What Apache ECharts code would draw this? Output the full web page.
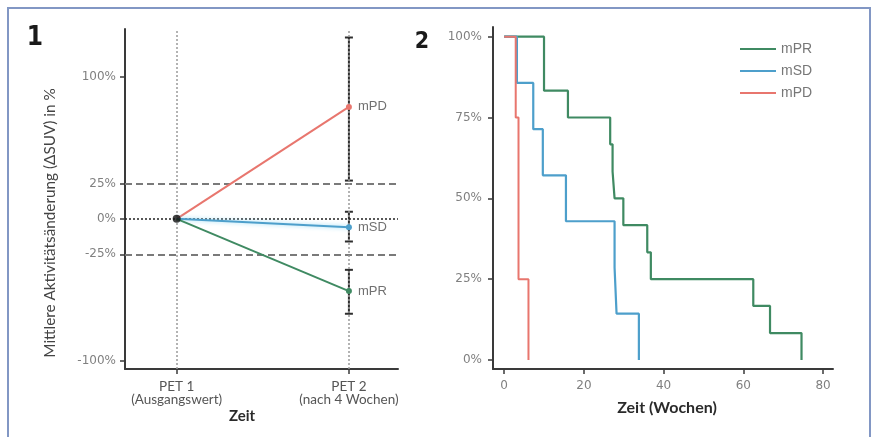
<!DOCTYPE html>
<html>
<head>
<meta charset="utf-8">
<script src="https://cdn.jsdelivr.net/npm/echarts@6/dist/echarts.min.js"></script>
<style>html,body{margin:0;padding:0;background:#fff;}#c{width:874px;height:437px;}</style>
</head>
<body>
<div id="c"></div>
<script>
// ---------- Panel 1 data ----------
const petCategories = ['PET 1\n(Ausgangswert)', 'PET 2\n(nach 4 Wochen)'];
const petPositions = [1, 2];
const groupNames = ['mPD', 'mSD', 'mPR'];
const baselineValue = 0;
const pet2Mean = [79, -6, -51];
const pet2Low = [27, -16, -67];
const pet2High = [128, 5, -36];
const leftYTicks = [-100, -25, 0, 25, 100];
const thresholdLines = [25, -25];

// ---------- Panel 2 data (Kaplan-Meier) ----------
const kmNames = ['mPR', 'mSD', 'mPD'];
const mprTimes = [10, 16, 26.6, 27.2, 27.7, 29.9, 35.9, 36.8, 62.5, 66.7, 74.6];
const mprSurv = [83.3, 75, 66.7, 58.3, 50, 41.7, 33.3, 25, 16.7, 8.3, 0];
const msdTimes = [3.2, 7.3, 9.7, 15.5, 27.7, 28.2, 33.8];
const msdSurv = [85.7, 71.4, 57.1, 42.9, 28.6, 14.3, 0];
const mpdTimes = [2.9, 3.6, 6.1];
const mpdSurv = [75, 25, 0];
const rightXTicks = [0, 20, 40, 60, 80];
const rightYTicks = [0, 25, 50, 75, 100];

const colors = { mPD: '#e8766e', mSD: '#4d9fcb', mPR: '#3f8a62' };
const axisColor = '#3a3a3a';
const tickFont = { color: '#808080', fontSize: 12, fontFamily: 'DejaVu Sans' };

function km(times, surv) {
  const d = [[0, 100]];
  times.forEach((t, i) => d.push([t, surv[i]]));
  return d;
}

const chart = echarts.init(document.getElementById('c'));

const leftLines = groupNames.map((name, i) => ({
  type: 'line',
  name: name,
  xAxisIndex: 0, yAxisIndex: 0,
  z: 5,
  data: [
    { value: [petPositions[0], baselineValue], symbolSize: 0 },
    { value: [petPositions[1], pet2Mean[i]],
      label: { show: true, position: 'right', distance: 6, formatter: name,
               color: '#707070', fontSize: 13, fontFamily: 'Liberation Sans' } }
  ],
  symbol: 'circle', symbolSize: 6,
  itemStyle: { color: colors[name] },
  lineStyle: Object.assign({ color: colors[name], width: 2 },
    name === 'mSD' ? { shadowColor: 'rgba(140,215,245,0.9)', shadowBlur: 4 } : {}),
  emphasis: { disabled: true },
  silent: true
}));

const numFont = "'DejaVu Sans Condensed', 'Roboto Condensed', 'Liberation Sans', sans-serif";

const option = {
  animation: false,
  backgroundColor: '#fff',
  grid: [
    { left: 125, top: 29, width: 273, height: 340 },
    { left: 493, top: 27, width: 340, height: 342 }
  ],
  xAxis: [
    { type: 'value', gridIndex: 0, min: 0.7, max: 2.285,
      axisLine: { show: true, onZero: false, lineStyle: { color: axisColor, width: 2 } },
      axisTick: { show: true, customValues: petPositions, length: 5, lineStyle: { color: axisColor, width: 1.5 } },
      axisLabel: { customValues: petPositions, margin: 11,
        formatter: v => petCategories[petPositions.indexOf(v)] || '',
        color: '#555', fontSize: 13.5, lineHeight: 13, fontFamily: 'Lato' },
      splitLine: { show: false } },
    { type: 'value', gridIndex: 1, min: -2.8, max: 82.5,
      axisLine: { show: true, onZero: false, lineStyle: { color: axisColor, width: 2 } },
      axisTick: { show: true, customValues: rightXTicks, length: 5, lineStyle: { color: axisColor, width: 1.5 } },
      axisLabel: Object.assign({ customValues: rightXTicks, margin: 11 }, tickFont),
      splitLine: { show: false } }
  ],
  yAxis: [
    { type: 'value', gridIndex: 0, min: -106, max: 134,
      axisLine: { show: true, onZero: false, lineStyle: { color: axisColor, width: 2 } },
      axisTick: { show: true, customValues: leftYTicks, length: 5, lineStyle: { color: axisColor, width: 1.5 } },
      axisLabel: Object.assign({ customValues: leftYTicks, margin: 9, formatter: v => v + '%' }, tickFont),
      splitLine: { show: false } },
    { type: 'value', gridIndex: 1, min: -2.8, max: 103,
      axisLine: { show: true, onZero: false, lineStyle: { color: axisColor, width: 2 } },
      axisTick: { show: true, customValues: rightYTicks, length: 5, lineStyle: { color: axisColor, width: 1.5 } },
      axisLabel: Object.assign({ customValues: rightYTicks, margin: 11, formatter: v => v + '%' }, tickFont),
      splitLine: { show: false } }
  ],
  legend: {
    data: kmNames,
    orient: 'vertical',
    left: 740, top: 42, padding: 0,
    itemWidth: 36, itemHeight: 2, itemGap: 8,
    icon: 'rect',
    textStyle: { color: '#777', fontSize: 14, fontFamily: 'Liberation Sans' },
    selectedMode: false
  },
  graphic: [
    { type: 'rect', shape: { x: 8, y: 8, width: 862, height: 440 },
      style: { fill: 'none', stroke: '#8297c4', lineWidth: 2 }, z: 100, silent: true },
    { type: 'text', x: 35, y: 38, style: { text: '1', fontSize: 26, fontWeight: 'bold',
      fontFamily: numFont, fill: '#1a1a1a', align: 'center', verticalAlign: 'middle' } },
    { type: 'text', x: 422, y: 42, style: { text: '2', fontSize: 23, fontWeight: 'bold',
      fontFamily: numFont, fill: '#1a1a1a', align: 'center', verticalAlign: 'middle' } },
    { type: 'text', x: 50, y: 223, rotation: Math.PI / 2,
      style: { text: 'Mittlere Aktivitätsänderung (ΔSUV) in %', fontSize: 15.3, fontFamily: 'Lato',
      fill: '#444', align: 'center', verticalAlign: 'middle' } },
    { type: 'text', x: 242, y: 416, style: { text: 'Zeit', fontSize: 15, fontWeight: 'bold',
      fontFamily: 'Lato', fill: '#2a2a2a', align: 'center', verticalAlign: 'middle' } },
    { type: 'text', x: 667, y: 408, style: { text: 'Zeit (Wochen)', fontSize: 16, fontWeight: 'bold',
      fontFamily: 'Lato', fill: '#2a2a2a', align: 'center', verticalAlign: 'middle' } }
  ],
  series: [
    { type: 'line', xAxisIndex: 0, yAxisIndex: 0, data: [], silent: true, z: 2,
      markLine: { silent: true, symbol: 'none', label: { show: false },
        data: [
          ...thresholdLines.map(v => ({ yAxis: v, lineStyle: { type: [7, 4], color: '#7a7a7a', width: 2 } })),
          ...petPositions.map(v => ({ xAxis: v, lineStyle: { type: [2, 2], color: '#9a9a9a', width: 1.5 } }))
        ] } },
    { type: 'custom', xAxisIndex: 0, yAxisIndex: 0, z: 4, silent: true,
      data: groupNames.map((n, i) => [petPositions[1], pet2Low[i], pet2High[i]]),
      renderItem: function (params, api) {
        const x = api.value(0);
        const lo = api.coord([x, api.value(1)]);
        const hi = api.coord([x, api.value(2)]);
        const st = { stroke: '#2e2e2e', lineWidth: 2 };
        return { type: 'group', children: [
          { type: 'line', shape: { x1: lo[0], y1: lo[1], x2: hi[0], y2: hi[1] }, style: st },
          { type: 'line', shape: { x1: lo[0] - 4, y1: lo[1], x2: lo[0] + 4, y2: lo[1] }, style: st },
          { type: 'line', shape: { x1: hi[0] - 4, y1: hi[1], x2: hi[0] + 4, y2: hi[1] }, style: st }
        ] };
      } },
    ...leftLines,
    { type: 'line', xAxisIndex: 0, yAxisIndex: 0, data: [], silent: true, z: 6,
      markLine: { silent: true, symbol: 'none', label: { show: false },
        data: [{ yAxis: 0, lineStyle: { type: [2, 2], color: '#222', width: 1.5 } }] } },
    { type: 'scatter', xAxisIndex: 0, yAxisIndex: 0, z: 7, silent: true,
      data: [[petPositions[0], baselineValue]], symbolSize: 8, itemStyle: { color: '#111' } },
    { type: 'line', name: 'mPR', xAxisIndex: 1, yAxisIndex: 1, step: 'end', data: km(mprTimes, mprSurv),
      symbol: 'none', lineStyle: { color: colors.mPR, width: 2.2 }, itemStyle: { color: colors.mPR }, z: 3 },
    { type: 'line', name: 'mSD', xAxisIndex: 1, yAxisIndex: 1, step: 'end', data: km(msdTimes, msdSurv),
      symbol: 'none', lineStyle: { color: colors.mSD, width: 2.2 }, itemStyle: { color: colors.mSD }, z: 4 },
    { type: 'line', name: 'mPD', xAxisIndex: 1, yAxisIndex: 1, step: 'end', data: km(mpdTimes, mpdSurv),
      symbol: 'none', lineStyle: { color: colors.mPD, width: 2 }, itemStyle: { color: colors.mPD }, z: 5 }
  ]
};
chart.setOption(option);
</script>
</body>
</html>
